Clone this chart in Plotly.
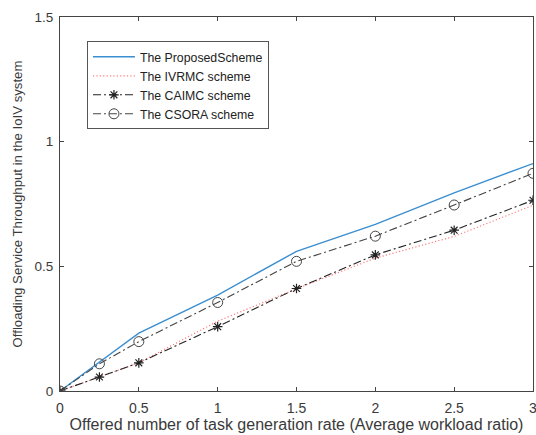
import plotly.graph_objects as go

x = [0, 0.25, 0.5, 1, 1.5, 2, 2.5, 3]
proposed = [0, 0.115, 0.232, 0.385, 0.56, 0.668, 0.795, 0.912]
ivrmc = [0, 0.055, 0.113, 0.28, 0.41, 0.533, 0.62, 0.745]
caimc = [0, 0.056, 0.113, 0.258, 0.411, 0.546, 0.645, 0.765]
csora = [0, 0.109, 0.198, 0.355, 0.52, 0.621, 0.746, 0.873]

names = ["The ProposedScheme", "The IVRMC scheme", "The CAIMC scheme", "The CSORA scheme"]
xticks = [0, 0.5, 1, 1.5, 2, 2.5, 3]
yticks = [0, 0.5, 1, 1.5]

FONT = "Liberation Sans, Arial"
TXT = "#3a3a3a"

fig = go.Figure()
fig.add_trace(go.Scatter(x=x, y=proposed, name=names[0], mode="lines",
                         line=dict(color="#3b8ed0", width=1.4)))
fig.add_trace(go.Scatter(x=x, y=ivrmc, name=names[1], mode="lines",
                         line=dict(color="#ff7a7a", width=1.2, dash="1.2px,2.2px")))
fig.add_trace(go.Scatter(x=x, y=caimc, name=names[2], mode="lines+markers",
                         line=dict(color="#222222", width=1.1, dash="8px,3px,2px,3px"),
                         marker=dict(symbol="asterisk-open", size=8,
                                     line=dict(color="#111111", width=1.2))))
fig.add_trace(go.Scatter(x=x, y=csora, name=names[3], mode="lines+markers",
                         line=dict(color="#444444", width=1.1, dash="8px,3px,2px,3px"),
                         marker=dict(symbol="circle-open", size=10, color="#444444",
                                     line=dict(color="#444444", width=1))))

axis_common = dict(showgrid=False, zeroline=False, showline=True, linecolor="#444444",
                   linewidth=1, mirror="ticks", ticks="inside", ticklen=4,
                   tickcolor="#444444", automargin=False)

fig.update_layout(
    width=536, height=435,
    margin=dict(l=60, r=3, t=17, b=44),
    paper_bgcolor="white", plot_bgcolor="white",
    showlegend=True,
    legend=dict(x=0.057, y=0.935, xanchor="left", yanchor="top",
                bordercolor="#555555", borderwidth=1, bgcolor="white",
                font=dict(family=FONT, size=12.3, color="#222222"),
                tracegroupgap=0, itemwidth=42),
    xaxis=dict(range=[0, 3], tickvals=xticks, ticktext=[str(v) for v in xticks],
               ticklabeloverflow="allow", ticklabelstandoff=4,
               tickfont=dict(family=FONT, size=14, color=TXT),
               title=dict(text="Offered number of task generation rate (Average workload ratio)",
                          font=dict(family=FONT, size=16, color=TXT),
                          standoff=4),
               **axis_common),
    yaxis=dict(range=[0, 1.5], tickvals=yticks, ticktext=[str(v) for v in yticks],
               ticklabelstandoff=3,
               tickfont=dict(family=FONT, size=13.5, color=TXT),
               title=dict(text="Offloading Service Throughput in the IoIV system",
                          font=dict(family=FONT, size=13.2, color=TXT),
                          standoff=8),
               **axis_common),
)

fig.write_html("out.html")
